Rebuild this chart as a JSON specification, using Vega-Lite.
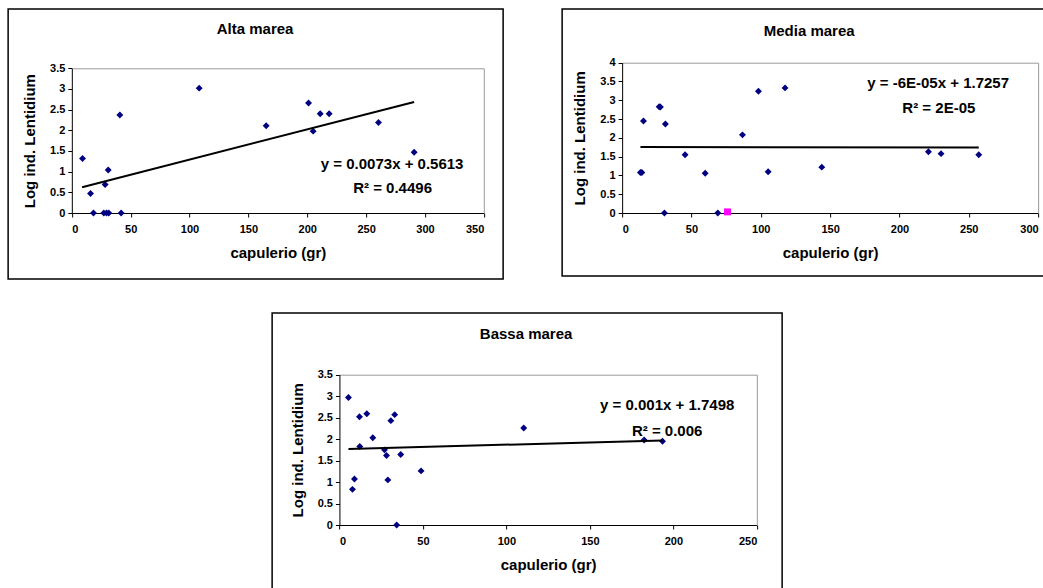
{
  "$schema": "https://vega.github.io/schema/vega-lite/v6.json",
  "padding": {"left": 7, "top": 8, "right": 0, "bottom": 0},
  "background": "white",
  "center": true,
  "spacing": 32,
  "config": {
    "font": "Liberation Sans",
    "view": {"stroke": "#000000", "strokeWidth": 1.5},
    "axis": {
      "grid": false,
      "domainColor": "#000000",
      "domainWidth": 1,
      "tickColor": "#000000",
      "tickSize": 4,
      "labelFont": "Liberation Sans",
      "labelFontWeight": "bold",
      "labelFontSize": 11,
      "labelColor": "#000000",
      "titleFont": "Liberation Sans",
      "titleFontWeight": "bold",
      "titleFontSize": 15,
      "titleColor": "#000000",
      "format": ".1~f"
    },
    "axisBottom": {"labelPadding": 6, "titlePadding": 11},
    "axisLeft": {"labelPadding": 3, "titlePadding": 12},
    "text": {"font": "Liberation Sans", "fontWeight": "bold", "fontSize": 15, "color": "#000000", "align": "center", "baseline": "middle"}
  },
  "datasets": {
    "alta": [
      {"cap": 9.1, "log": 1.32}, {"cap": 15.9, "log": 0.47}, {"cap": 18.4, "log": 0}, {"cap": 27.2, "log": 0},
      {"cap": 29.5, "log": 0}, {"cap": 31.4, "log": 0}, {"cap": 28.3, "log": 0.69}, {"cap": 30.9, "log": 1.04},
      {"cap": 40.8, "log": 2.37}, {"cap": 41.9, "log": 0}, {"cap": 108.2, "log": 3.02}, {"cap": 165.1, "log": 2.11},
      {"cap": 201.1, "log": 2.66}, {"cap": 205.0, "log": 1.98}, {"cap": 211.0, "log": 2.40}, {"cap": 218.6, "log": 2.40},
      {"cap": 260.5, "log": 2.19}, {"cap": 290.8, "log": 1.47}
    ],
    "alta_trend": [{"cap": 8.7, "log": 0.625}, {"cap": 290.8, "log": 2.684}],
    "media": [
      {"cap": 13.2, "log": 1.08, "s": "a"}, {"cap": 14.2, "log": 1.08, "s": "a"}, {"cap": 15.4, "log": 2.45, "s": "a"},
      {"cap": 26.7, "log": 2.83, "s": "a"}, {"cap": 27.6, "log": 2.82, "s": "a"}, {"cap": 31.2, "log": 2.37, "s": "a"},
      {"cap": 30.5, "log": 0, "s": "a"}, {"cap": 45.4, "log": 1.55, "s": "a"}, {"cap": 59.9, "log": 1.06, "s": "a"},
      {"cap": 69.0, "log": 0, "s": "a"}, {"cap": 86.8, "log": 2.08, "s": "a"}, {"cap": 98.3, "log": 3.24, "s": "a"},
      {"cap": 105.3, "log": 1.10, "s": "a"}, {"cap": 117.5, "log": 3.33, "s": "a"}, {"cap": 144.0, "log": 1.22, "s": "a"},
      {"cap": 220.9, "log": 1.63, "s": "a"}, {"cap": 230.0, "log": 1.58, "s": "a"}, {"cap": 257.2, "log": 1.55, "s": "a"},
      {"cap": 76.0, "log": 0.03, "s": "b"}
    ],
    "media_trend": [{"cap": 13.2, "log": 1.755}, {"cap": 257.2, "log": 1.74}],
    "bassa": [
      {"cap": 5.4, "log": 2.97}, {"cap": 7.8, "log": 0.83}, {"cap": 9.0, "log": 1.07}, {"cap": 12.0, "log": 2.52},
      {"cap": 12.2, "log": 1.83}, {"cap": 16.4, "log": 2.59}, {"cap": 20.0, "log": 2.03}, {"cap": 27.0, "log": 1.75},
      {"cap": 28.2, "log": 1.62}, {"cap": 29.0, "log": 1.05}, {"cap": 30.8, "log": 2.43}, {"cap": 33.1, "log": 2.57},
      {"cap": 34.3, "log": 0}, {"cap": 36.7, "log": 1.64}, {"cap": 48.9, "log": 1.26}, {"cap": 110.4, "log": 2.26},
      {"cap": 182.5, "log": 1.98}, {"cap": 193.5, "log": 1.95}
    ],
    "bassa_trend": [{"cap": 5.4, "log": 1.77}, {"cap": 193.5, "log": 1.97}]
  },
  "vconcat": [
    {
      "hconcat": [
        {
          "width": 495,
          "height": 270,
          "resolve": {"axis": {"x": "independent", "y": "independent"}},
          "layer": [
            {
              "data": {"name": "alta"},
              "mark": {"type": "point", "shape": "diamond", "filled": true, "size": 48, "color": "#000080", "opacity": 1},
              "encoding": {
                "x": {"field": "cap", "type": "quantitative",
                  "scale": {"domain": [0, 350], "range": [63.7, 475.7], "nice": false, "zero": false},
                  "axis": {"orient": "bottom", "offset": -66, "values": [0, 50, 100, 150, 200, 250, 300, 350], "title": "capulerio (gr)"}},
                "y": {"field": "log", "type": "quantitative",
                  "scale": {"domain": [0, 3.5], "range": [204, 59.3], "nice": false, "zero": false},
                  "axis": {"orient": "left", "offset": -63.7, "values": [0, 0.5, 1, 1.5, 2, 2.5, 3, 3.5], "title": "Log ind. Lentidium"}}
              }
            },
            {
              "data": {"name": "alta_trend"},
              "mark": {"type": "line", "color": "#000000", "strokeWidth": 2},
              "encoding": {
                "x": {"field": "cap", "type": "quantitative",
                  "axis": {"orient": "top", "offset": -59.3, "domainColor": "#9a9a9a", "ticks": false, "labels": false, "title": null}},
                "y": {"field": "log", "type": "quantitative",
                  "axis": {"orient": "right", "offset": -19.3, "domainColor": "#9a9a9a", "ticks": false, "labels": false, "title": null}}
              }
            },
            {
              "data": {"values": [{}]},
              "mark": {"type": "text", "text": "Alta marea"},
              "encoding": {"x": {"datum": 155.7, "type": "quantitative", "axis": null}, "y": {"datum": 4.458, "type": "quantitative", "axis": null}}
            },
            {
              "data": {"values": [{}]},
              "mark": {"type": "text", "text": "y = 0.0073x + 0.5613"},
              "encoding": {"x": {"datum": 272.1, "type": "quantitative", "axis": null}, "y": {"datum": 1.193, "type": "quantitative", "axis": null}}
            },
            {
              "data": {"values": [{}]},
              "mark": {"type": "text", "text": "R² = 0.4496"},
              "encoding": {"x": {"datum": 272.5, "type": "quantitative", "axis": null}, "y": {"datum": 0.612, "type": "quantitative", "axis": null}}
            }
          ]
        },
        {
          "width": 484,
          "height": 267,
          "resolve": {"axis": {"x": "independent", "y": "independent"}},
          "layer": [
            {
              "data": {"name": "media"},
              "mark": {"type": "point", "filled": true, "size": 48, "opacity": 1},
              "encoding": {
                "x": {"field": "cap", "type": "quantitative",
                  "scale": {"domain": [0, 300], "range": [60, 476], "nice": false, "zero": false},
                  "axis": {"orient": "bottom", "offset": -63, "values": [0, 50, 100, 150, 200, 250, 300], "title": "capulerio (gr)"}},
                "y": {"field": "log", "type": "quantitative",
                  "scale": {"domain": [0, 4], "range": [204, 53.7], "nice": false, "zero": false},
                  "axis": {"orient": "left", "offset": -60, "values": [0, 0.5, 1, 1.5, 2, 2.5, 3, 3.5, 4], "title": "Log ind. Lentidium"}},
                "color": {"field": "s", "type": "nominal", "scale": {"domain": ["a", "b"], "range": ["#000080", "#FF00FF"]}, "legend": null},
                "shape": {"field": "s", "type": "nominal", "scale": {"domain": ["a", "b"], "range": ["diamond", "square"]}, "legend": null}
              }
            },
            {
              "data": {"name": "media_trend"},
              "mark": {"type": "line", "color": "#000000", "strokeWidth": 2},
              "encoding": {
                "x": {"field": "cap", "type": "quantitative",
                  "axis": {"orient": "top", "offset": -53.7, "domainColor": "#9a9a9a", "ticks": false, "labels": false, "title": null}},
                "y": {"field": "log", "type": "quantitative",
                  "axis": {"orient": "right", "offset": -8, "domainColor": "#9a9a9a", "ticks": false, "labels": false, "title": null}}
              }
            },
            {
              "data": {"values": [{}]},
              "mark": {"type": "text", "text": "Media marea"},
              "encoding": {"x": {"datum": 134.9, "type": "quantitative", "axis": null}, "y": {"datum": 4.844, "type": "quantitative", "axis": null}}
            },
            {
              "data": {"values": [{}]},
              "mark": {"type": "text", "text": "y = -6E-05x + 1.7257"},
              "encoding": {"x": {"datum": 227.9, "type": "quantitative", "axis": null}, "y": {"datum": 3.46, "type": "quantitative", "axis": null}}
            },
            {
              "data": {"values": [{}]},
              "mark": {"type": "text", "text": "R² = 2E-05"},
              "encoding": {"x": {"datum": 228.4, "type": "quantitative", "axis": null}, "y": {"datum": 2.79, "type": "quantitative", "axis": null}}
            }
          ]
        }
      ],
      "spacing": 57
    },
    {
      "width": 510,
      "height": 276,
      "resolve": {"axis": {"x": "independent", "y": "independent"}},
      "layer": [
        {
          "data": {"name": "bassa"},
          "mark": {"type": "point", "shape": "diamond", "filled": true, "size": 48, "color": "#000080", "opacity": 1},
          "encoding": {
            "x": {"field": "cap", "type": "quantitative",
              "scale": {"domain": [0, 250], "range": [67.3, 484.7], "nice": false, "zero": false},
              "axis": {"orient": "bottom", "offset": -64, "values": [0, 50, 100, 150, 200, 250], "title": "capulerio (gr)"}},
            "y": {"field": "log", "type": "quantitative",
              "scale": {"domain": [0, 3.5], "range": [212, 61.7], "nice": false, "zero": false},
              "axis": {"orient": "left", "offset": -67.3, "values": [0, 0.5, 1, 1.5, 2, 2.5, 3, 3.5], "title": "Log ind. Lentidium"}}
          }
        },
        {
          "data": {"name": "bassa_trend"},
          "mark": {"type": "line", "color": "#000000", "strokeWidth": 2},
          "encoding": {
            "x": {"field": "cap", "type": "quantitative",
              "axis": {"orient": "top", "offset": -61.7, "domainColor": "#9a9a9a", "ticks": false, "labels": false, "title": null}},
            "y": {"field": "log", "type": "quantitative",
              "axis": {"orient": "right", "offset": -25.3, "domainColor": "#9a9a9a", "ticks": false, "labels": false, "title": null}}
          }
        },
        {
          "data": {"values": [{}]},
          "mark": {"type": "text", "text": "Bassa marea"},
          "encoding": {"x": {"datum": 111.8, "type": "quantitative", "axis": null}, "y": {"datum": 4.455, "type": "quantitative", "axis": null}}
        },
        {
          "data": {"values": [{}]},
          "mark": {"type": "text", "text": "y = 0.001x + 1.7498"},
          "encoding": {"x": {"datum": 196.3, "type": "quantitative", "axis": null}, "y": {"datum": 2.80, "type": "quantitative", "axis": null}}
        },
        {
          "data": {"values": [{}]},
          "mark": {"type": "text", "text": "R² = 0.006"},
          "encoding": {"x": {"datum": 196.3, "type": "quantitative", "axis": null}, "y": {"datum": 2.196, "type": "quantitative", "axis": null}}
        }
      ]
    }
  ]
}
